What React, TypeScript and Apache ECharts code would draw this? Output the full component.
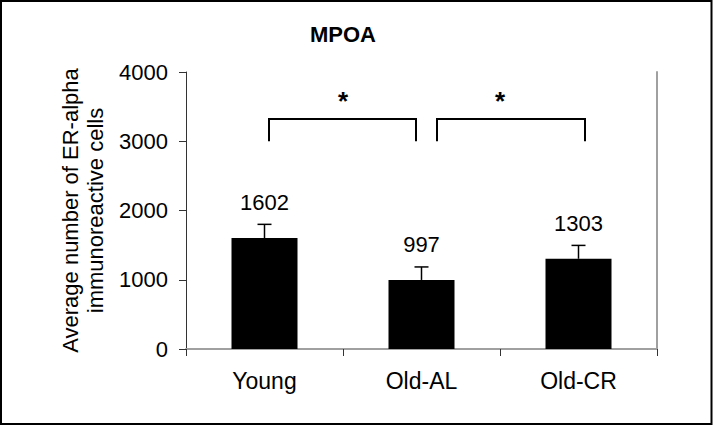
import React, { useEffect, useRef } from "react";
import * as echarts from "echarts";

// group names, means and error (SEM)
const groups = ["Young", "Old-AL", "Old-CR"];
const means = [1602, 997, 1303];
const errors = [198, 188, 193];
const yTicks = [0, 1000, 2000, 3000, 4000];

// significance brackets: [from group, to group, bracket level, leg end]
const brackets = [
  [0, 1, 3320, 3000],
  [1, 2, 3320, 3000],
];
const bracketMarks = ["*", "*"];
// pixel insets of the bracket ends from the group centres
const bracketInsets = [
  [4.5, -5.5],
  [15.5, 6.5],
];

const FONT = "'Liberation Sans', Arial, sans-serif";

const App: React.FC = () => {
  const chartRef = useRef<HTMLDivElement>(null);

  useEffect(() => {
    const chart = echarts.init(chartRef.current!, null, { renderer: "svg" });

    const option: any = {
      animation: false,
      backgroundColor: "#fff",
      textStyle: { fontFamily: FONT },
      title: {
        text: "MPOA",
        left: 338,
        top: 18,
        textAlign: "center",
        textStyle: { fontFamily: FONT, fontSize: 22, fontWeight: "bold", color: "#000" },
      },
      grid: { left: 186, right: 56, top: 72, bottom: 77 },
      xAxis: [
        {
          type: "category",
          data: groups,
          boundaryGap: true,
          axisLine: { lineStyle: { color: "#333", width: 1 } },
          axisTick: { show: true, alignWithLabel: false, length: 7, lineStyle: { color: "#333" } },
          axisLabel: { color: "#000", fontSize: 23, fontFamily: FONT, margin: 20 },
        },
        {
          type: "category",
          data: groups,
          position: "top",
          axisLine: { lineStyle: { color: "#a0a0a0", width: 2 } },
          axisTick: { show: false },
          axisLabel: { show: false },
        },
      ],
      yAxis: [
        {
          type: "value",
          min: yTicks[0],
          max: yTicks[yTicks.length - 1],
          interval: yTicks[1] - yTicks[0],
          name: "Average number of ER-alpha\nimmunoreactive cells",
          nameLocation: "middle",
          nameRotate: 90,
          nameGap: 72,
          nameTextStyle: { color: "#000", fontSize: 22, fontFamily: FONT, lineHeight: 25 },
          splitLine: { show: false },
          axisLine: { show: true, lineStyle: { color: "#333", width: 1 } },
          axisTick: { show: true, length: 7, lineStyle: { color: "#333" } },
          axisLabel: {
            color: "#000",
            fontSize: 22,
            fontFamily: FONT,
            margin: 18,
            formatter: (v: number) => String(v),
          },
        },
        {
          type: "value",
          min: yTicks[0],
          max: yTicks[yTicks.length - 1],
          interval: yTicks[1] - yTicks[0],
          position: "right",
          splitLine: { show: false },
          axisLine: { show: true, lineStyle: { color: "#a0a0a0", width: 2 } },
          axisTick: { show: false },
          axisLabel: { show: false },
        },
      ],
      series: [
        {
          type: "bar",
          data: means,
          barWidth: 66,
          itemStyle: { color: "#000" },
          z: 2,
        },
        {
          type: "custom",
          data: means.map((m, i) => [i, m, errors[i]]),
          encode: { x: 0, y: 1 },
          z: 3,
          renderItem: (_params: any, api: any) => {
            const idx = api.value(0);
            const mean = api.value(1);
            const err = api.value(2);
            const base = api.coord([idx, mean]);
            const top = api.coord([idx, mean + err]);
            const half = 7;
            const line = { stroke: "#000", lineWidth: 1.5 };
            return {
              type: "group",
              children: [
                { type: "line", shape: { x1: top[0], y1: base[1], x2: top[0], y2: top[1] }, style: line },
                { type: "line", shape: { x1: top[0] - half, y1: top[1], x2: top[0] + half, y2: top[1] }, style: line },
                {
                  type: "text",
                  x: top[0],
                  y: top[1] - 22,
                  style: {
                    text: String(mean),
                    fill: "#000",
                    fontSize: 22,
                    fontFamily: FONT,
                    align: "center",
                    verticalAlign: "middle",
                  },
                },
              ],
            };
          },
        },
        {
          type: "custom",
          data: brackets,
          encode: { x: 0, y: 2 },
          z: 3,
          renderItem: (params: any, api: any) => {
            const i = params.dataIndex;
            const from = api.value(0);
            const to = api.value(1);
            const level = api.value(2);
            const foot = api.value(3);
            const a = api.coord([from, level]);
            const b = api.coord([to, level]);
            const yFoot = api.coord([from, foot])[1];
            const x1 = a[0] + bracketInsets[i][0];
            const x2 = b[0] + bracketInsets[i][1];
            return {
              type: "group",
              children: [
                {
                  type: "polyline",
                  shape: { points: [[x1, yFoot], [x1, a[1]], [x2, a[1]], [x2, yFoot]] },
                  style: { stroke: "#000", lineWidth: 2, fill: null },
                },
                {
                  type: "text",
                  x: (a[0] + b[0]) / 2,
                  y: a[1] - 18,
                  style: {
                    text: bracketMarks[i],
                    fill: "#000",
                    fontSize: 26,
                    fontWeight: "bold",
                    fontFamily: FONT,
                    align: "center",
                    verticalAlign: "middle",
                  },
                },
              ],
            };
          },
        },
      ],
      graphic: [
        {
          type: "rect",
          shape: { x: 1, y: 1, width: 710.5, height: 423 },
          style: { fill: null, stroke: "#000", lineWidth: 2 },
          silent: true,
        },
      ],
    };

    chart.setOption(option);
    return () => {
      chart.dispose();
    };
  }, []);

  return (
    <div
      ref={chartRef}
      style={{ position: "absolute", left: 0, top: 0, width: "713px", height: "426px" }}
    />
  );
};

export default App;
